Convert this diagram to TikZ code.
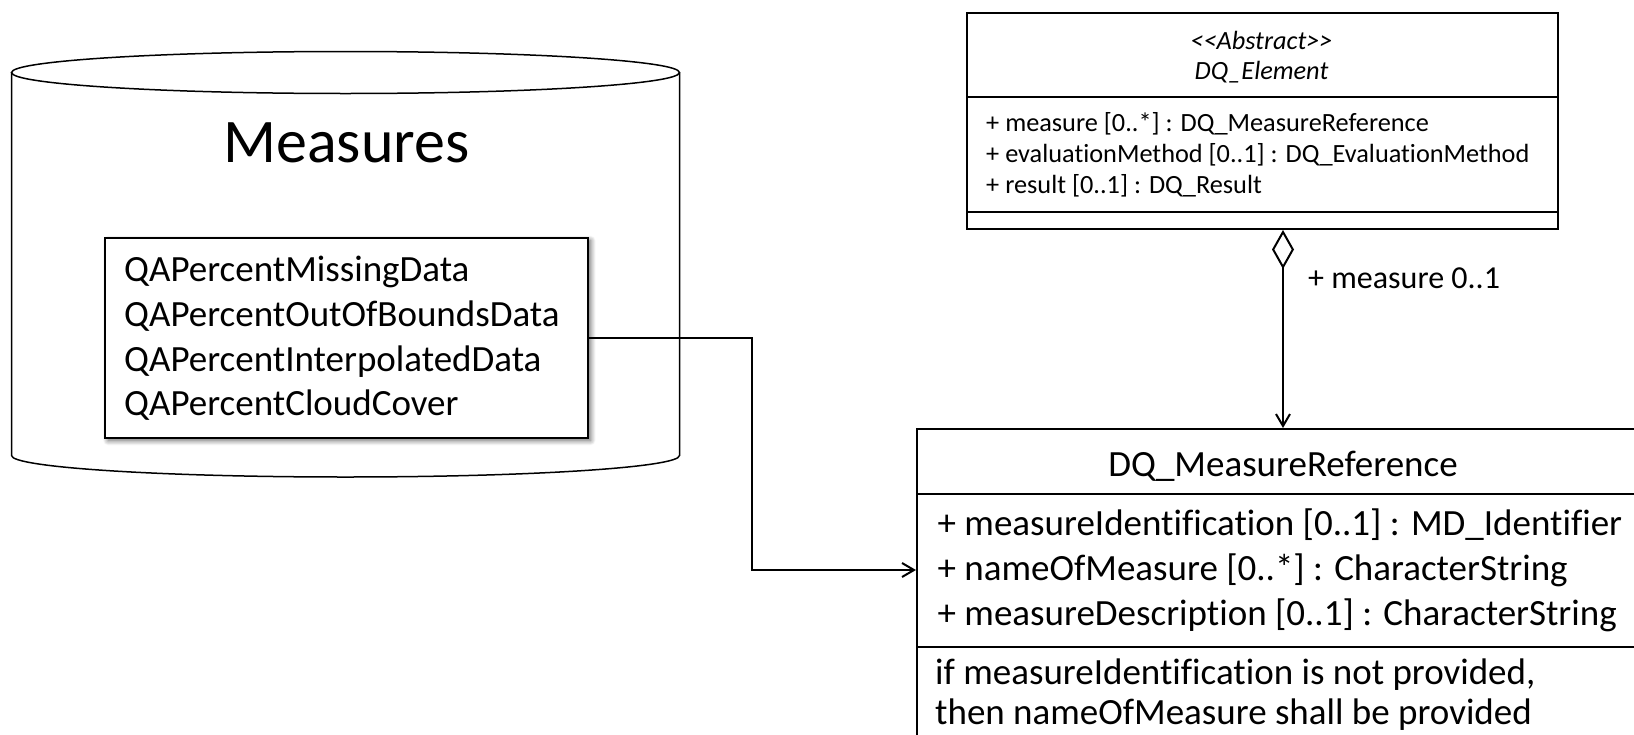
\documentclass[tikz,border=0pt]{standalone}
\usepackage{fontspec}
\setmainfont{Carlito}[Ligatures={TeX,NoCommon}]
\usetikzlibrary{arrows.meta,shadows.blur}
\newcommand\dlt{<\kern0pt<}
\newcommand\dgt{>\kern0pt>}
\begin{document}
\begin{tikzpicture}[x=1pt,y=1pt,
  boxline/.style={line width=2pt},
  cylline/.style={line width=1.5pt},
  hugetext/.style={font=\fontsize{62}{74}\selectfont, inner sep=0pt},
  bigtext/.style={font=\fontsize{37}{45}\selectfont, inner sep=0pt},
  smalltext/.style={font=\fontsize{26.3}{31}\selectfont, inner sep=0pt},
  labeltext/.style={font=\fontsize{32}{38}\selectfont, inner sep=0pt},
  assoc/.style={line width=2pt, -{Straight Barb[length=12pt,width=14pt,line width=2pt]}},
  aggr/.style={line width=2pt, {Diamond[open,length=39pt,width=22pt,line width=2pt]}-{Straight Barb[length=12pt,width=14pt,line width=2pt]}}
]
\useasboundingbox (0,0) rectangle (1634,-734);

% Measures repository drawn as a cylinder
\draw[cylline] (345.5,-72.5) ellipse [x radius=334, y radius=21];
\draw[cylline] (11.5,-72.5) -- (11.5,-455.5)
  arc[start angle=180, end angle=360, x radius=334, y radius=21.5] -- (679.5,-72.5);
\node[hugetext, anchor=base] (measures) at (346.5,-162) {Measures};

% list of measures inside the repository
\node[draw, boxline, fill=white, anchor=north west, minimum width=482.7pt, minimum height=200pt,
  blur shadow={shadow xshift=3pt, shadow yshift=-3pt, shadow blur radius=5pt, shadow blur steps=12, shadow opacity=60}] (list) at (104,-236.5) {};
\node[bigtext, anchor=base west] (m1) at (124,-281) {QAPercentMissingData};
\node[bigtext, anchor=base west] (m2) at (124,-326) {QAPercentOutOfBoundsData};
\node[bigtext, anchor=base west] (m3) at (124,-371) {QAPercentInterpolatedData};
\node[bigtext, anchor=base west] (m4) at (124,-415) {QAPercentCloudCover};

% abstract class DQ_Element
\node[draw, boxline, anchor=north west, minimum width=591pt, minimum height=216.5pt] (elem) at (966,-11.5) {};
\draw[boxline] (elem.west |- 0,-96.5) -- (elem.east |- 0,-96.5);
\draw[boxline] (elem.west |- 0,-212) -- (elem.east |- 0,-212);
\node[smalltext, anchor=base] (stereo) at (1261.5,-49) {\itshape \dlt Abstract\dgt};
\node[smalltext, anchor=base] (elemname) at (1261.5,-79) {\itshape DQ\_Element};
\node[smalltext, anchor=base west] (e1) at (986,-131.5) {+ measure [0..*] : DQ\_MeasureReference};
\node[smalltext, anchor=base west] (e2) at (986,-162) {+ evaluationMethod [0..1] : DQ\_EvaluationMethod};
\node[smalltext, anchor=base west] (e3) at (986,-193) {+ result [0..1] : DQ\_Result};

% class DQ_MeasureReference
\node[draw, boxline, anchor=north west, minimum width=732pt, minimum height=340pt] (mref) at (916,-428) {};
\draw[boxline] (mref.west |- 0,-494) -- (mref.east |- 0,-494);
\draw[boxline] (mref.west |- 0,-647) -- (mref.east |- 0,-647);
\node[bigtext, anchor=base] (mrefname) at (mref.north |- 0,-476) {DQ\_MeasureReference};
\node[bigtext, anchor=base west] (r1) at (937.5,-535) {+ measureIdentification [0..1] : MD\_Identifier};
\node[bigtext, anchor=base west] (r2) at (937.5,-580) {+ nameOfMeasure [0..*] : CharacterString};
\node[bigtext, anchor=base west] (r3) at (937.5,-625) {+ measureDescription [0..1] : CharacterString};
\node[bigtext, anchor=base west] (c1) at (935,-684) {if measureIdentification is not provided,};
\node[bigtext, anchor=base west] (c2) at (935,-724) {then nameOfMeasure shall be provided};

% connectors
\coordinate (bend) at (752,-570);
\coordinate (mrefin) at (mref.west |- bend);
\draw[assoc] (list.east) -| (bend) -- (mrefin);
\draw[aggr] (elem.south -| mref.north) -- (mref.north);
\node[labeltext, anchor=base west] (agglabel) at (1308,-288) {+ measure 0..1};
\end{tikzpicture}
\end{document}
